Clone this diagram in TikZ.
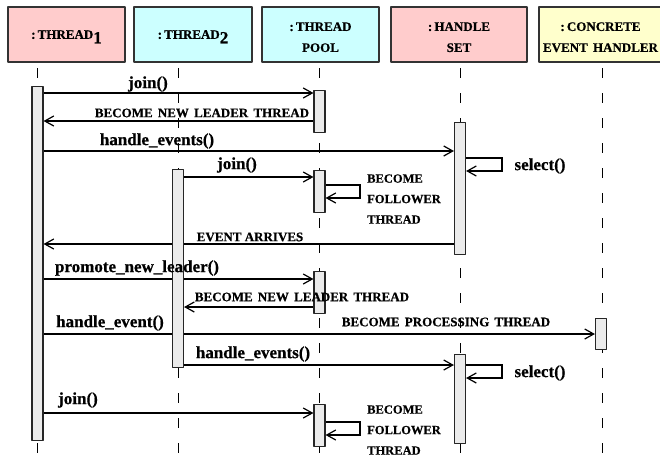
\documentclass[tikz,border=0pt]{standalone}
\usepackage{fontspec}
\setmainfont{Liberation Serif}[BoldFeatures={FakeBold=0.6}]
\usetikzlibrary{arrows.meta,backgrounds}

\definecolor{hdrpink}{RGB}{255,204,204}
\definecolor{hdrcyan}{RGB}{204,255,255}
\definecolor{hdryellow}{RGB}{255,255,204}
\definecolor{barfill}{RGB}{235,235,235}

\newcommand{\hsub}[1]{\raisebox{-4.5pt}{\fontsize{17}{17}\selectfont #1}}
\newcommand{\ws}{\hspace{0.4em}}
\newcommand{\hstrut}{\rule{0pt}{14pt}}

\begin{document}
\begin{tikzpicture}[x=1pt,y=-1pt,>={Straight Barb[length=9pt,width=10pt]}, line join=round,
    hdr/.style={draw=black!80, line width=1.3pt, minimum height=55pt, inner sep=0pt, align=center,
        font=\fontsize{13}{21}\bfseries\selectfont},
    actbar/.style={draw=black!85, fill=barfill, line width=1.1pt, minimum width=11pt, inner sep=0pt, anchor=north},
    life/.style={line width=1pt, dash pattern=on 10pt off 15pt},
    msg/.style={->, line width=1.2pt},
    call/.style={font=\fontsize{17}{17}\bfseries\selectfont, inner sep=0pt},
    note/.style={font=\fontsize{13}{20.5}\bfseries\selectfont, inner sep=0pt},
    fnote/.style={font=\fontsize{12.5}{20.5}\bfseries\selectfont, inner sep=0pt, anchor=west, align=left}]
    \useasboundingbox (0,0) rectangle (660,466);
    % objects
    \node[hdr, fill=hdrpink, minimum width=117pt, text depth=0pt] (thr1) at (66.5,34.5) {:\,THREAD\hsub{1}};
    \node[hdr, fill=hdrcyan, minimum width=118pt, text depth=0pt] (thr2) at (193,34.5) {:\,THREAD\hsub{2}};
    \node[hdr, fill=hdrcyan, minimum width=117pt] (pool) at (320.5,34.5) {\hstrut:\,THREAD\\POOL};
    \node[hdr, fill=hdrpink, minimum width=136pt] (hset) at (459,34.5) {\hstrut:\,HANDLE\\SET};
    \node[hdr, fill=hdryellow, minimum width=123pt] (conc) at (600.5,34.5) {\hstrut:\,CONCRETE\\EVENT\ws HANDLER};
    % activations
    \node[actbar, minimum height=354pt] (t1a) at (37.5,86) {};
    \node[actbar, minimum height=42pt] (tp1) at (319.5,90) {};
    \node[actbar, minimum height=132pt] (hs1) at (460,122) {};
    \node[actbar, minimum height=198pt] (t2a) at (178,169) {};
    \node[actbar, minimum height=42pt] (tp2) at (319.5,170) {};
    \node[actbar, minimum height=42pt] (tp3) at (319.5,271) {};
    \node[actbar, minimum height=31pt] (ce1) at (601,318) {};
    \node[actbar, minimum height=89pt] (hs2) at (460,354) {};
    \node[actbar, minimum height=42pt] (tp4) at (319.5,404) {};
    \begin{scope}[on background layer]
        \foreach \n/\x in {t1/37,t2/178,tp/319,hs/460,ce/602}
            \draw[life] (\x,68) coordinate (\n) -- (\x,470);
        \draw[msg] (t1a.east |- 0,93) -- (tp1.west |- 0,93);
        \draw[msg] (tp1.west |- 0,121) -- (t1a.east |- 0,121);
        \draw[msg] (t1a.east |- 0,151) -- (hs1.west |- 0,151);
        \draw[msg] (t2a.east |- 0,177) -- (tp2.west |- 0,177);
        \draw[msg] (hs1.east |- 0,158) -- (502,158) |- (hs1.east |- 0,171);
        \draw[msg] (tp2.east |- 0,185) -- (360,185) |- (tp2.east |- 0,198);
        \draw[msg] (hs1.west |- 0,244) -- (t1a.east |- 0,244);
        \draw[msg] (t1a.east |- 0,279) -- (tp3.west |- 0,279);
        \draw[msg] (tp3.west |- 0,307) -- (t2a.east |- 0,307);
        \draw[msg] (t1a.east |- 0,334) -- (ce1.west |- 0,334);
        \draw[msg] (t2a.east |- 0,365) -- (hs2.west |- 0,365);
        \draw[msg] (hs2.east |- 0,365) -- (502,365) |- (hs2.east |- 0,378);
        \draw[msg] (t1a.east |- 0,413) -- (tp4.west |- 0,413);
        \draw[msg] (tp4.east |- 0,422) -- (360,422) |- (tp4.east |- 0,435);
    \end{scope}
    % messages
    \node[call] (m1) at (148,84) {join()};
    \node[note] (r1) at (202,113) {BECOME\ws NEW\ws LEADER\ws THREAD};
    \node[call] (m2) at (157,141) {handle\_events()};
    \node[call] (m3) at (237,165) {join()};
    \node[call] (m4) at (540,166) {select()};
    \node[fnote] (r2) at (367,199) {BECOME\\FOLLOWER\\THREAD};
    \node[note] (r3) at (250,237) {EVENT ARRIVES};
    \node[call] (m5) at (137,268) {promote\_new\_leader()};
    \node[note] (r4) at (302,297) {BECOME\ws NEW\ws LEADER\ws THREAD};
    \node[call] (m6) at (110,323) {handle\_event()};
    \node[note] (r5) at (446,322) {BECOME\ws PROCESSING\ws THREAD};
    \node[call] (m7) at (253,354) {handle\_events()};
    \node[call] (m8) at (540,373) {select()};
    \node[call] (m9) at (78,400) {join()};
    \node[fnote] (r6) at (367,430) {BECOME\\FOLLOWER\\THREAD};
\end{tikzpicture}
\end{document}
